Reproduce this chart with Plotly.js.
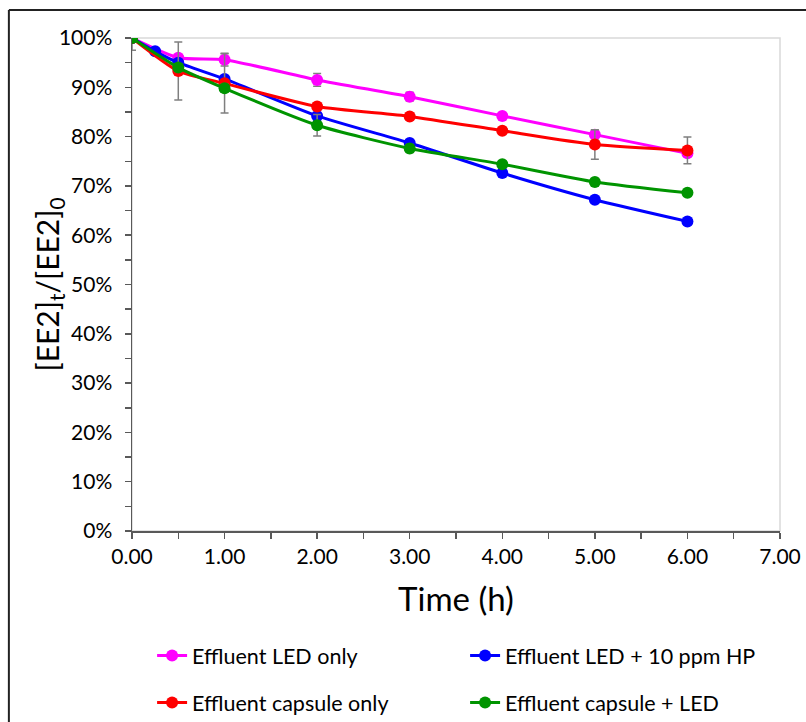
<!DOCTYPE html>
<html>
<head>
<meta charset="utf-8">
<script src="https://cdn.plot.ly/plotly-3.0.1.min.js"></script>
<style>
html,body{margin:0;padding:0;background:#fff;}
#chart{width:806px;height:722px;}
</style>
</head>
<body>
<div id="chart"></div>
<script>
// Time (h)
var timeLED = [0, 0.5, 1, 2, 3, 4, 5, 6];
var ledOnly = [100, 96.0, 95.6, 91.5, 88.1, 84.2, 80.4, 76.6];
var ledOnlyErr = [0, 0.6, 1.3, 1.3, 0.9, 0.5, 0.9, 0.6];

var timeHP = [0, 0.25, 0.5, 1, 2, 3, 4, 5, 6];
var ledHP = [100, 97.3, 95.0, 91.7, 84.2, 78.7, 72.6, 67.2, 62.8];
var ledHPErr = [0, 0, 0.5, 0.5, 0.5, 0.5, 0.4, 0.4, 0.4];

var timeCap = [0, 0.5, 1, 2, 3, 4, 5, 6];
var capOnly = [100, 93.3, 90.8, 86.1, 84.1, 81.2, 78.4, 77.2];
var capOnlyErr = [2.5, 5.9, 6.0, 0.5, 0.5, 0.5, 3.0, 2.7];

var timeCapLED = [0, 0.5, 1, 2, 3, 4, 5, 6];
var capLED = [100, 94.0, 89.8, 82.3, 77.6, 74.4, 70.8, 68.6];
var capLEDErr = [0, 0.8, 0.8, 2.2, 0.8, 0.5, 0.7, 0.5];

var names = ["Effluent LED only", "Effluent LED + 10 ppm HP", "Effluent capsule only", "Effluent capsule + LED"];
var colors = ["#ff00ff", "#0000ff", "#ff0000", "#009400"];
var yTitle = "[EE2]<sub>t</sub>/[EE2]<sub>0</sub>";
var xTitle = "Time (h)";

var FONT = "Lato, 'Noto Sans', sans-serif";

function mk(x, y, e, i, legend) {
  return {
    x: x, y: y, name: names[i], type: "scatter", mode: "lines+markers",
    line: {color: colors[i], width: 3, shape: "spline", smoothing: 0.6},
    marker: {color: colors[i], size: 12, symbol: "circle"},
    error_y: {type: "data", array: e, visible: true, color: "#7f7f7f", thickness: 1.5, width: 4},
    legend: legend
  };
}

var data = [
  mk(timeLED, ledOnly, ledOnlyErr, 0, "legend"),
  mk(timeHP, ledHP, ledHPErr, 1, "legend"),
  mk(timeCap, capOnly, capOnlyErr, 2, "legend2"),
  mk(timeCapLED, capLED, capLEDErr, 3, "legend2")
];

var legFont = {size: 21.5, family: FONT, color: "#000"};

var layout = {
  width: 806, height: 722,
  margin: {l: 132, r: 26, t: 38, b: 191},
  paper_bgcolor: "#fff", plot_bgcolor: "#fff",
  font: {family: FONT, color: "#000"},
  showlegend: true,
  xaxis: {
    range: [0, 7], dtick: 1, tick0: 0, tickformat: ".2f",
    showgrid: false, zeroline: false,
    showline: true, linecolor: "#595959", linewidth: 1.5,
    ticks: "outside", ticklen: 6, tickcolor: "#595959", tickwidth: 1.5,
    minor: {dtick: 0.5, ticks: "outside", ticklen: 6, tickcolor: "#595959", tickwidth: 1.5, showgrid: false},
    tickfont: {size: 21, family: FONT, color: "#000"},
    title: {text: xTitle, font: {size: 33, family: FONT, color: "#000"}, standoff: 21},
    automargin: false
  },
  yaxis: {
    range: [0, 100], dtick: 10, tick0: 0, ticksuffix: "%",
    showgrid: false, zeroline: false,
    showline: true, linecolor: "#595959", linewidth: 1.5,
    ticks: "outside", ticklen: 6, tickcolor: "#595959", tickwidth: 1.5,
    ticklabelstandoff: 8,
    minor: {dtick: 5, ticks: "outside", ticklen: 6, tickcolor: "#595959", tickwidth: 1.5, showgrid: false},
    tickfont: {size: 21, family: FONT, color: "#000"},
    automargin: false
  },
  annotations: [
    {text: yTitle, textangle: -90, xref: "paper", yref: "paper", x: -0.1296, y: 0.5,
     xanchor: "center", yanchor: "middle", showarrow: false,
     font: {size: 30, family: FONT, color: "#000"}}
  ],
  legend: {
    orientation: "h", x: 0.031, xanchor: "left", yref: "container", y: 0.1205, yanchor: "top",
    entrywidth: 268, entrywidthmode: "pixels",
    font: legFont, bgcolor: "rgba(0,0,0,0)"
  },
  legend2: {
    orientation: "h", x: 0.031, xanchor: "left", yref: "container", y: 0.0554, yanchor: "top",
    entrywidth: 268, entrywidthmode: "pixels",
    font: legFont, bgcolor: "rgba(0,0,0,0)"
  },
  shapes: [
    {type: "rect", xref: "x domain", yref: "y domain", x0: 0, x1: 1, y0: 0, y1: 1,
     line: {color: "#d9d9d9", width: 1.5}, layer: "below"},
    {type: "line", xref: "paper", yref: "paper", x0: -0.19, x1: -0.19, y0: 1.057, y1: -0.5,
     line: {color: "#222", width: 2}},
    {type: "line", xref: "paper", yref: "paper", x0: -0.19, x1: 1.1, y0: 1.057, y1: 1.057,
     line: {color: "#222", width: 2}}
  ]
};

Plotly.newPlot("chart", data, layout, {displayModeBar: false, staticPlot: true});
</script>
</body>
</html>
